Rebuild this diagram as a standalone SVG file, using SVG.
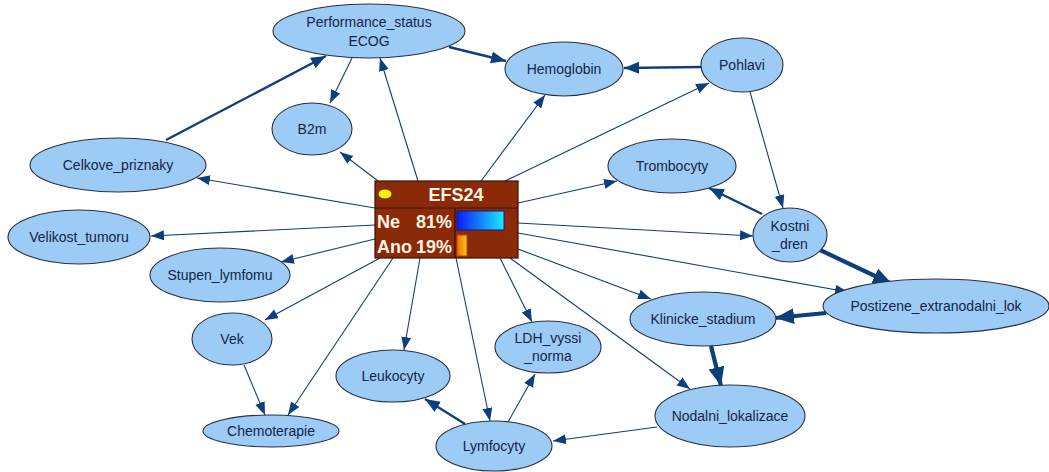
<svg xmlns="http://www.w3.org/2000/svg" width="1049" height="472" viewBox="0 0 1049 472">
  <defs>
    <style>
      .node ellipse { fill: #9ccbf5; stroke: #2b3040; stroke-width: 1.1; }
      .node text { font-family: "Liberation Sans", Arial, sans-serif; font-size: 14px; fill: #15254a; text-anchor: middle; }
      .edge { stroke: #0d3f7d; fill: none; }
      .e1 { stroke-width: 1.1; marker-end: url(#arr); }
      .e2 { stroke-width: 2.4; marker-end: url(#arrB); }
      .e3 { stroke-width: 4.2; marker-end: url(#arrC); }
      .efs text { font-family: "Liberation Sans", Arial, sans-serif; font-weight: bold; fill: #fff4e2; font-size: 18px; }
    </style>
    <marker id="arr" markerUnits="userSpaceOnUse" markerWidth="14" markerHeight="12" refX="13" refY="5" orient="auto">
      <path d="M0,0 L13,5 L0,10 Z" fill="#0d3f7d"/>
    </marker>
    <marker id="arrB" markerUnits="userSpaceOnUse" markerWidth="16" markerHeight="14" refX="15" refY="6" orient="auto">
      <path d="M0,0 L15,6 L0,12 Z" fill="#0d3f7d"/>
    </marker>
    <marker id="arrC" markerUnits="userSpaceOnUse" markerWidth="20" markerHeight="18" refX="19" refY="8" orient="auto">
      <path d="M0,0 L19,8 L0,16 Z" fill="#0d3f7d"/>
    </marker>
    <linearGradient id="gBlue" x1="0" y1="0" x2="1" y2="0">
      <stop offset="0" stop-color="#0a1cff"/>
      <stop offset="1" stop-color="#1ee8ff"/>
    </linearGradient>
    <linearGradient id="gOrange" x1="0" y1="0" x2="1" y2="0">
      <stop offset="0" stop-color="#f07000"/>
      <stop offset="1" stop-color="#ffc020"/>
    </linearGradient>
  </defs>

  <rect width="1049" height="472" fill="#ffffff"/>

  <!-- connectors -->
  <g id="connectors">
    <line class="edge e2" x1="166" y1="140" x2="326" y2="56"/>
    <line class="edge e1" x1="352" y1="58" x2="330" y2="103"/>
    <line class="edge e1" x1="418" y1="181" x2="380" y2="58"/>
    <line class="edge e2" x1="449" y1="47" x2="506" y2="61"/>
    <line class="edge e2" x1="702" y1="67" x2="624" y2="68"/>
    <line class="edge e1" x1="481" y1="181" x2="545" y2="95"/>
    <line class="edge e1" x1="505" y1="181" x2="709" y2="83"/>
    <line class="edge e1" x1="750" y1="92" x2="783" y2="208"/>
    <line class="edge e1" x1="378" y1="181" x2="340" y2="152"/>
    <line class="edge e1" x1="375" y1="208" x2="197" y2="178"/>
    <line class="edge e1" x1="375" y1="225" x2="151" y2="236"/>
    <line class="edge e1" x1="375" y1="239" x2="281" y2="262"/>
    <line class="edge e1" x1="380" y1="258" x2="265" y2="320"/>
    <line class="edge e1" x1="393" y1="258" x2="288" y2="415"/>
    <line class="edge e1" x1="244" y1="365" x2="265" y2="415"/>
    <line class="edge e1" x1="420" y1="258" x2="404" y2="350"/>
    <line class="edge e1" x1="456" y1="258" x2="490" y2="421"/>
    <line class="edge e1" x1="500" y1="258" x2="532" y2="322"/>
    <line class="edge e2" x1="465" y1="424" x2="425" y2="399"/>
    <line class="edge e1" x1="508" y1="422" x2="535" y2="374"/>
    <line class="edge e1" x1="657" y1="427" x2="553" y2="441"/>
    <line class="edge e1" x1="510" y1="258" x2="690" y2="389"/>
    <line class="edge e1" x1="518" y1="249" x2="651" y2="299"/>
    <line class="edge e1" x1="518" y1="233" x2="848" y2="292"/>
    <line class="edge e1" x1="518" y1="223" x2="753" y2="236"/>
    <line class="edge e1" x1="518" y1="203" x2="617" y2="181"/>
    <line class="edge e2" x1="762" y1="214" x2="709" y2="188"/>
    <line class="edge e3" x1="820" y1="250" x2="892" y2="284"/>
    <line class="edge e3" x1="826" y1="313" x2="775" y2="318"/>
    <line class="edge e3" x1="711" y1="346" x2="721" y2="386"/>
  </g>

  <!-- nodes -->
  <g id="performance_status" class="node">
    <ellipse cx="369" cy="31" rx="96" ry="27"/>
    <text x="369" y="27">Performance_status</text>
    <text x="369" y="46">ECOG</text>
  </g>
  <g id="hemoglobin" class="node">
    <ellipse cx="564" cy="69" rx="59" ry="27"/>
    <text x="564" y="74">Hemoglobin</text>
  </g>
  <g id="pohlavi" class="node">
    <ellipse cx="742" cy="65" rx="41" ry="27"/>
    <text x="742" y="70">Pohlavi</text>
  </g>
  <g id="b2m" class="node">
    <ellipse cx="312" cy="129" rx="40" ry="26"/>
    <text x="312" y="134">B2m</text>
  </g>
  <g id="celkove_priznaky" class="node">
    <ellipse cx="118" cy="165" rx="88" ry="27"/>
    <text x="118" y="170">Celkove_priznaky</text>
  </g>
  <g id="velikost_tumoru" class="node">
    <ellipse cx="79" cy="237" rx="71" ry="27"/>
    <text x="79" y="242">Velikost_tumoru</text>
  </g>
  <g id="stupen_lymfomu" class="node">
    <ellipse cx="220" cy="275" rx="70" ry="27"/>
    <text x="220" y="280">Stupen_lymfomu</text>
  </g>
  <g id="vek" class="node">
    <ellipse cx="232" cy="339" rx="40" ry="26"/>
    <text x="232" y="344">Vek</text>
  </g>
  <g id="chemoterapie" class="node">
    <ellipse cx="271" cy="431" rx="68" ry="16"/>
    <text x="271" y="436">Chemoterapie</text>
  </g>
  <g id="leukocyty" class="node">
    <ellipse cx="393" cy="376" rx="57" ry="26"/>
    <text x="393" y="381">Leukocyty</text>
  </g>
  <g id="ldh_vyssi_norma" class="node">
    <ellipse cx="548" cy="347" rx="53" ry="26"/>
    <text x="548" y="343">LDH_vyssi</text>
    <text x="548" y="361">_norma</text>
  </g>
  <g id="lymfocyty" class="node">
    <ellipse cx="494" cy="446" rx="58" ry="25"/>
    <text x="494" y="451">Lymfocyty</text>
  </g>
  <g id="nodalni_lokalizace" class="node">
    <ellipse cx="730" cy="416" rx="75" ry="31"/>
    <text x="730" y="421">Nodalni_lokalizace</text>
  </g>
  <g id="klinicke_stadium" class="node">
    <ellipse cx="703" cy="319" rx="73" ry="27"/>
    <text x="703" y="324">Klinicke_stadium</text>
  </g>
  <g id="postizene_extranodalni_lok" class="node">
    <ellipse cx="936" cy="306" rx="113" ry="27"/>
    <text x="936" y="311">Postizene_extranodalni_lok</text>
  </g>
  <g id="kostni_dren" class="node">
    <ellipse cx="790" cy="235" rx="37" ry="27"/>
    <text x="790" y="231">Kostni</text>
    <text x="790" y="249">_dren</text>
  </g>
  <g id="trombocyty" class="node">
    <ellipse cx="672" cy="166" rx="64" ry="27"/>
    <text x="672" y="171">Trombocyty</text>
  </g>

  <!-- EFS24 monitor node -->
  <g id="efs24" class="efs">
    <rect x="375" y="181" width="143" height="77" fill="#8a2a08" stroke="#3a1204" stroke-width="1.2"/>
    <line x1="375" y1="208" x2="518" y2="208" stroke="#3a1204" stroke-width="1.2"/>
    <line x1="455" y1="208" x2="455" y2="258" stroke="#3a1204" stroke-width="1.2"/>
    <ellipse cx="385" cy="194" rx="7" ry="5" fill="#ffee00" stroke="#3a2a00" stroke-width="0.8"/>
    <text x="456" y="201" font-size="17" text-anchor="middle">EFS24</text>
    <text x="377" y="228">Ne</text>
    <text x="452" y="228" text-anchor="end">81%</text>
    <text x="377" y="253">Ano</text>
    <text x="452" y="253" text-anchor="end">19%</text>
    <rect x="457" y="211" width="47" height="19" fill="url(#gBlue)" stroke="#1a1a70" stroke-width="1"/>
    <rect x="457" y="235" width="10" height="21" fill="url(#gOrange)" stroke="#b04a00" stroke-width="1"/>
  </g>
</svg>
